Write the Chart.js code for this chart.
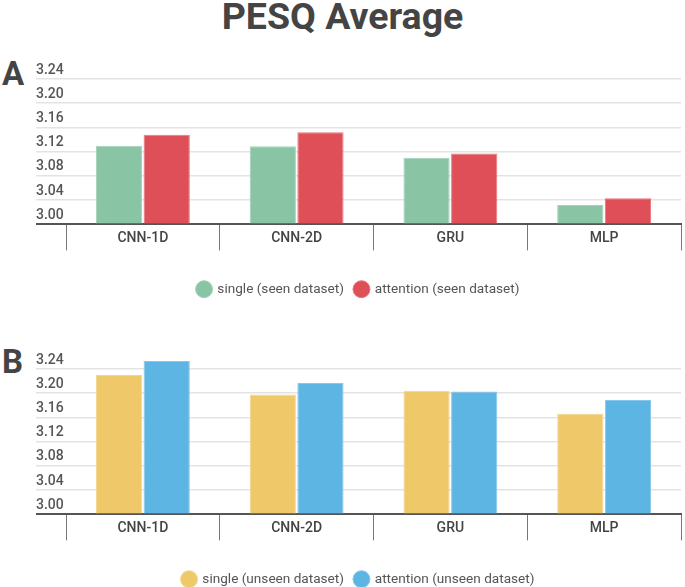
<!DOCTYPE html>
<html>
<head>
<meta charset="utf-8">
<script src="https://cdn.jsdelivr.net/npm/chart.js@4/dist/chart.umd.min.js"></script>
<style>
  html, body { margin: 0; padding: 0; background: #fff; overflow: hidden; }
  body { width: 685px; height: 587px; position: relative; font-family: Roboto, sans-serif; color: #444; }
  .title { position: absolute; left: 0; width: 685px; top: -2px; text-align: center; font-size: 37.5px; line-height: 37px; font-weight: bold; }
  .panel { position: absolute; left: 2px; font-size: 33px; line-height: 33px; font-weight: bold; }
  .box { position: absolute; left: 0; width: 685px; height: 256px; }
</style>
</head>
<body>
<div class="title">PESQ Average</div>
<div class="panel" style="top:57px">A</div>
<div class="panel" style="top:345px">B</div>
<div class="box" style="top:50px"><canvas id="chartA"></canvas></div>
<div class="box" style="top:340px"><canvas id="chartB"></canvas></div>
<script>
const models = ['CNN-1D', 'CNN-2D', 'GRU', 'MLP']
const yTicks = [3.00, 3.04, 3.08, 3.12, 3.16, 3.20, 3.24]
const baseline = 3.00

const seenSingle = [3.130, 3.129, 3.110, 3.032]
const seenAttention = [3.148, 3.152, 3.117, 3.043]
const unseenSingle = [3.230, 3.198, 3.204, 3.166]
const unseenAttention = [3.253, 3.217, 3.203, 3.189]

function makeChart(id, names, series, colors, borders){
    let ctx = document.getElementById(id).getContext('2d')
    let datasets = []
    for (let i = 0; i < series.length; i++){
        datasets.push({
            label: names[i],
            data: series[i],
            base: baseline,
            backgroundColor: colors[i],
            borderColor: borders[i],
            borderWidth: 1,
            clip: false,
            barPercentage: 0.97,
            categoryPercentage: 0.62
        })
    }
    return new Chart(ctx, {
        type: 'bar',
        data: { labels: models, datasets: datasets },
        options: {
            responsive: true,
            maintainAspectRatio: false,
            animation: false,
            layout: { padding: { top: 29, left: 36, right: 4, bottom: 0 } },
            plugins: {
                tooltip: { enabled: false },
                legend: {
                    position: 'bottom',
                    labels: {
                        usePointStyle: true,
                        pointStyle: 'circle',
                        boxWidth: 13,
                        boxHeight: 12,
                        padding: 11,
                        color: '#555',
                        font: { family: 'Roboto', size: 13.6 }
                    }
                }
            },
            scales: {
                x: {
                    grid: {
                        offset: true,
                        drawOnChartArea: false,
                        drawTicks: true,
                        tickLength: 26,
                        color: '#777',
                        lineWidth: 1
                    },
                    border: { color: '#555', width: 2 },
                    ticks: {
                        padding: -20,
                        color: '#444',
                        font: { family: 'Roboto', size: 14, weight: 500 }
                    },
                    afterFit: s => { s.height = 47 }
                },
                y: {
                    beginAtZero: false,
                    min: baseline,
                    max: 3.24,
                    afterBuildTicks: s => { s.ticks = yTicks.map(v => ({ value: v })) },
                    grid: {
                        drawTicks: true,
                        tickLength: 30,
                        color: c => c.tick && c.tick.value === baseline ? '#555' : '#e3e3e3',
                        lineWidth: c => c.tick && c.tick.value === baseline ? 2 : 1.5
                    },
                    border: { display: false },
                    ticks: {
                        crossAlign: 'far',
                        labelOffset: -9,
                        padding: 0,
                        color: '#555',
                        font: { family: 'Roboto', size: 14, weight: 500 },
                        callback: v => v.toFixed(2)
                    },
                    afterFit: s => { s.width = 30 }
                }
            }
        }
    })
}

makeChart('chartA', ['single (seen dataset)', 'attention (seen dataset)'],
    [seenSingle, seenAttention], ['#89c4a5', '#de4f57'], ['#a3d2b9', '#e8767c'])
makeChart('chartB', ['single (unseen dataset)', 'attention (unseen dataset)'],
    [unseenSingle, unseenAttention], ['#efc86a', '#5db5e3'], ['#f4d78f', '#85c8eb'])
</script>
</body>
</html>
